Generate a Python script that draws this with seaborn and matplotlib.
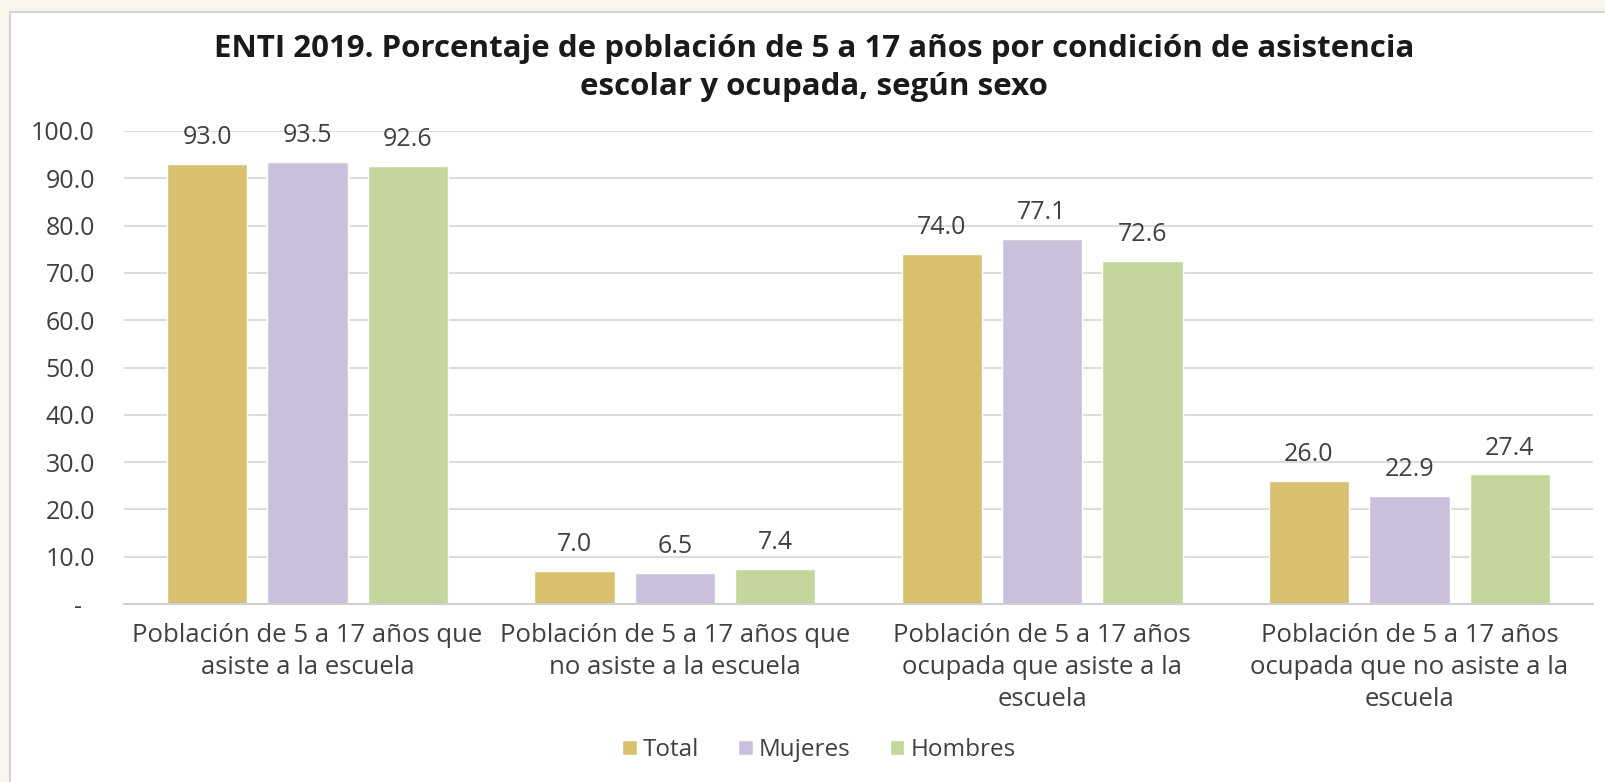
import matplotlib
matplotlib.use("Agg")
import matplotlib.pyplot as plt
from matplotlib.patches import Rectangle
from matplotlib.ticker import FuncFormatter, MultipleLocator
import seaborn as sns
import pandas as pd

categories = [
    "Población de 5 a 17 años que\nasiste a la escuela",
    "Población de 5 a 17 años que\nno asiste a la escuela",
    "Población de 5 a 17 años\nocupada que asiste a la\nescuela",
    "Población de 5 a 17 años\nocupada que no asiste a la\nescuela",
]
series = ["Total", "Mujeres", "Hombres"]
total = [93.0, 7.0, 74.0, 26.0]
mujeres = [93.5, 6.5, 77.1, 22.9]
hombres = [92.6, 7.4, 72.6, 27.4]
colors = ["#D9C06E", "#CBC0DB", "#C3D69B"]
title = ("ENTI 2019. Porcentaje de población de 5 a 17 años por condición de asistencia\n"
         "escolar y ocupada, según sexo")

rows = []
for s, vals in zip(series, [total, mujeres, hombres]):
    for c, v in zip(categories, vals):
        rows.append({"cat": c, "serie": s, "valor": v})
df = pd.DataFrame(rows)

sns.set_theme(style="white")
plt.rcParams["font.family"] = ["Open Sans", "DejaVu Sans"]

W, H = 1606, 782
fig = plt.figure(figsize=(W / 100, H / 100), dpi=100)
fig.patch.set_facecolor("#F8F5EC")
# white panel
fig.patches.append(Rectangle((10 / W, -0.01), 1.02, (H - 12) / H + 0.01,
                             transform=fig.transFigure, facecolor="white",
                             edgecolor="#D5D5D5", linewidth=1.5, zorder=-10))

ax = fig.add_axes([124 / W, 1 - 604 / H, (1593 - 124) / W, (604 - 131) / H])
ax.set_zorder(5)
ax.set_facecolor("white")

sns.barplot(data=df, x="cat", y="valor", hue="serie", palette=colors,
            width=0.82, gap=0.2, ax=ax, saturation=1, errorbar=None)

ax.set_ylim(0, 100)
ax.yaxis.set_major_locator(MultipleLocator(10))
ax.yaxis.set_major_formatter(FuncFormatter(lambda v, p: "-  " if abs(v) < 1e-9 else f"{v:.1f}"))
ax.grid(axis="y", color="#D9D9D9", linewidth=1.3)
ax.set_axisbelow(True)
for sp in ["top", "right", "left"]:
    ax.spines[sp].set_visible(False)
ax.spines["bottom"].set_color("#D0D0D0")
ax.spines["bottom"].set_linewidth(1.5)
ax.set_xlabel("")
ax.set_ylabel("")
ax.tick_params(axis="x", length=0, pad=14, labelsize=18.5, labelcolor="#404040")
ax.tick_params(axis="y", length=0, pad=21, labelsize=18, labelcolor="#404040")
for lab in ax.get_xticklabels():
    lab.set_linespacing(1.35)

for cont in ax.containers:
    ax.bar_label(cont, fmt="%.1f", padding=10, fontsize=18, color="#404040")

handles, labels = ax.get_legend_handles_labels()
if ax.get_legend() is not None:
    ax.get_legend().remove()
fig.legend(handles, labels, loc="center", bbox_to_anchor=(819 / W, 1 - 750 / H),
           ncol=3, frameon=False, fontsize=17.5, handlelength=0.6, handleheight=0.6,
           handletextpad=0.25, columnspacing=1.6, labelcolor="#404040")

fig.text(814 / W, 1 - 68 / H, title, ha="center", va="center", fontsize=22.5,
         fontweight="bold", color="#1A1A1A", linespacing=1.35)

fig.savefig("out.png", dpi=100, facecolor=fig.get_facecolor())
